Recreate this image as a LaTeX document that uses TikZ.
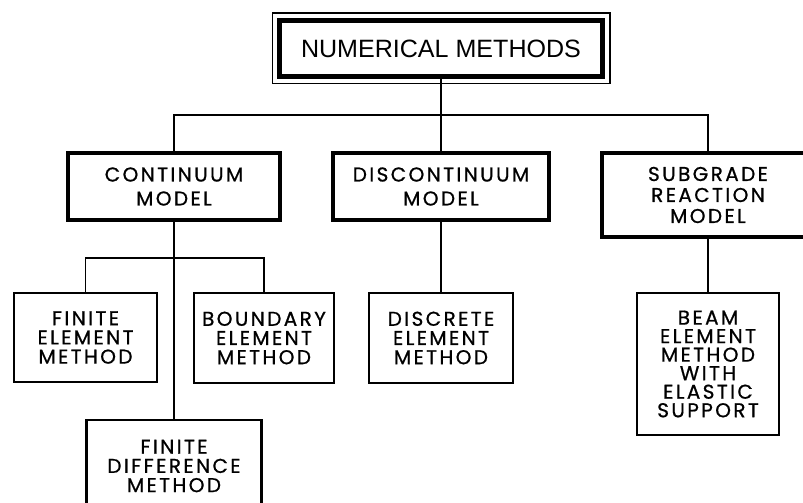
\documentclass[tikz,border=0pt]{standalone}
\usepackage{fontspec}
\setmainfont{Liberation Sans}
\newfontfamily\letterfont{Poppins}[LetterSpace=12,FakeBold=0.8]
\begin{document}
\begin{tikzpicture}[x=0.75pt,y=-0.75pt,
  titlebox/.style={draw, line width=3.4pt, inner sep=0pt, font=\fontsize{18.8}{20}\selectfont},
  modelbox/.style={draw, line width=2.3pt, inner sep=0pt, align=center, font=\letterfont\fontsize{15}{18}\selectfont},
  methodbox/.style={draw, line width=1.6pt, inner sep=0pt, align=center, font=\letterfont\fontsize{15}{14.4}\selectfont},
  link/.style={line width=1.2pt}]
\fill[white] (0,0) rectangle (803,503);
\useasboundingbox (0,0) rectangle (803,503);
% top of the tree
\node[titlebox, minimum width=323*0.75pt, minimum height=56*0.75pt] (nm) at (441,48.5) {NUMERICAL METHODS};
\draw[line width=1.1pt] ([shift={(-5,5)}]nm.south west) rectangle ([shift={(5,-5)}]nm.north east);
% models
\node[modelbox, minimum width=212*0.75pt, minimum height=67*0.75pt] (cm) at (174,186.5) {CONTINUUM\\MODEL};
\node[modelbox, minimum width=216*0.75pt, minimum height=67*0.75pt] (dm) at (441,186.5) {DISCONTINUUM\\MODEL};
\node[modelbox, line width=3pt, font=\letterfont\fontsize{15}{15.75}\selectfont, minimum width=212*0.75pt, minimum height=84*0.75pt] (sm) at (708,195) {SUBGRADE\\REACTION\\MODEL};
% methods
\node[methodbox, minimum width=143*0.75pt, minimum height=89*0.75pt] (fem) at (85.5,337.5) {FINITE\\ELEMENT\\METHOD};
\node[methodbox, minimum width=140*0.75pt, minimum height=90*0.75pt] (bem) at (264,338) {BOUNDARY\\ELEMENT\\METHOD};
\node[methodbox, minimum width=144*0.75pt, minimum height=90*0.75pt] (dem) at (441,338) {DISCRETE\\ELEMENT\\METHOD};
\node[methodbox, minimum width=175*0.75pt, minimum height=92*0.75pt] (fdm) at (174,466) {FINITE\\DIFFERENCE\\METHOD};
\node[methodbox, font=\letterfont\fontsize{15}{13.9}\selectfont, minimum width=142*0.75pt, minimum height=142*0.75pt] (beam) at (708,364) {BEAM\\ELEMENT\\METHOD\\WITH\\ELASTIC\\SUPPORT};
% connectors
\coordinate (top) at (441,115);
\coordinate (split) at (174,258);
\draw[link] (nm) -- (top);
\draw[link] (top) -| (cm.north);
\draw[link] (top) -- (dm.north);
\draw[link] (top) -| (sm.north);
\draw[link] (cm) -- (fdm);
\draw[link] (split) -| (fem.north);
\draw[link] (split) -| (bem.north);
\draw[link] (dm) -- (dem);
\draw[link] (sm) -- (beam);
\end{tikzpicture}
\end{document}
